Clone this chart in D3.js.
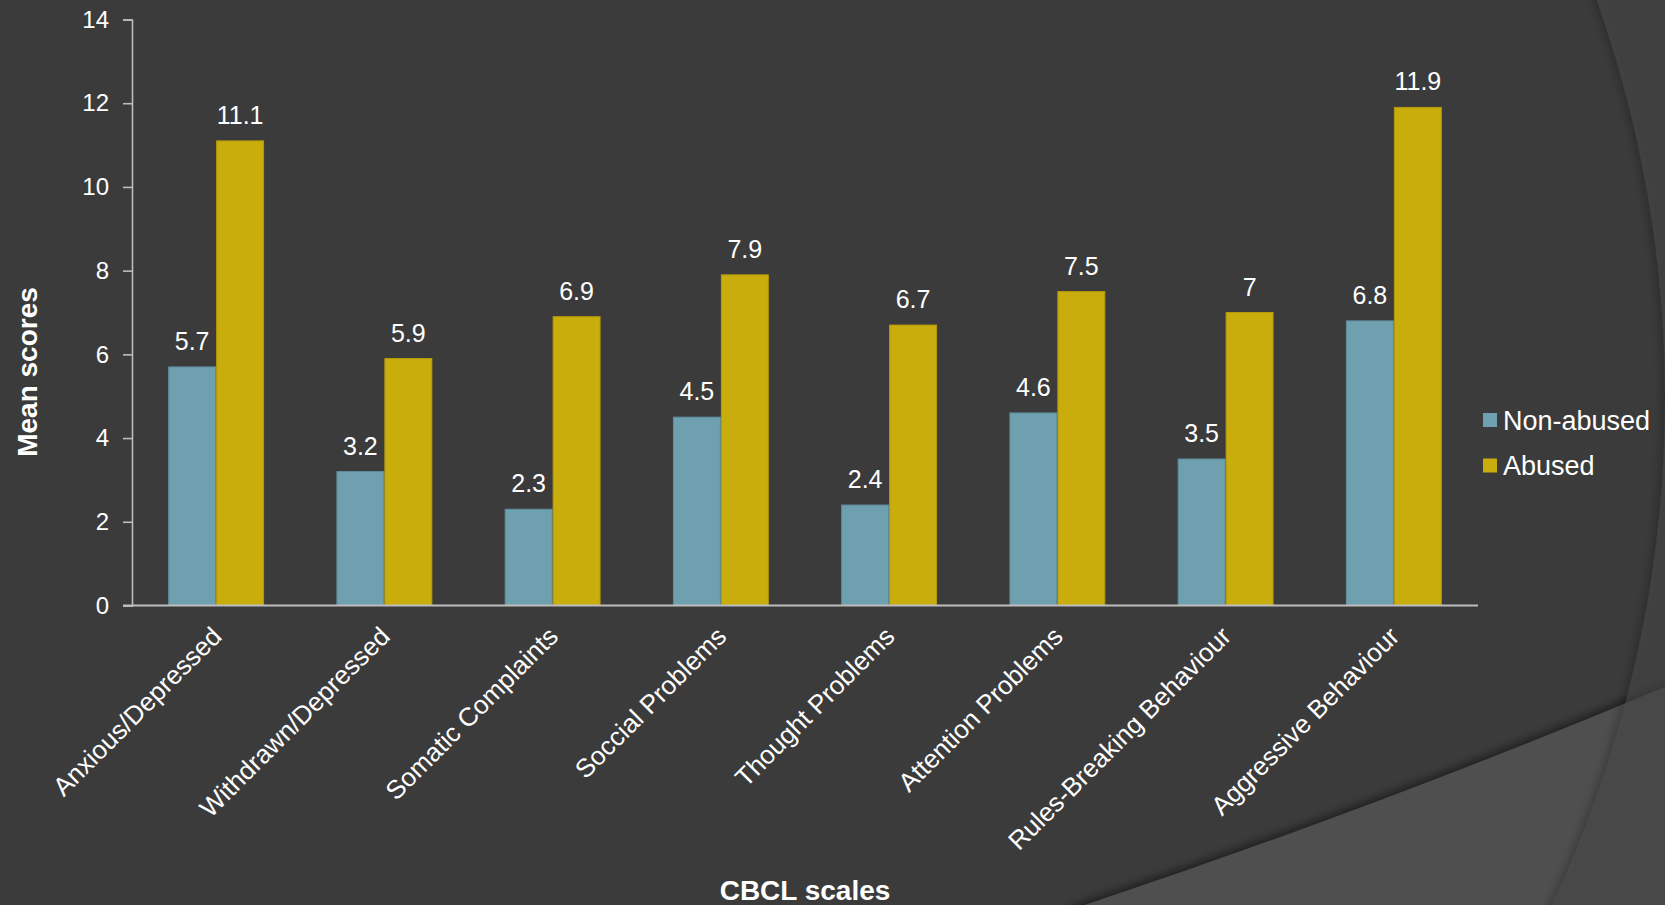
<!DOCTYPE html>
<html>
<head>
<meta charset="utf-8">
<script src="https://cdn.jsdelivr.net/npm/d3@7"></script>
<style>
  html, body { margin: 0; padding: 0; background: #3b3b3b; }
  svg { display: block; }
  text { font-family: "Liberation Sans", Arial, Helvetica, sans-serif; fill: #ffffff; }
</style>
</head>
<body>
<svg id="chart" width="1665" height="905"></svg>
<script>
// CBCL scale means for the two groups
const categories = [
  "Anxious/Depressed", "Withdrawn/Depressed", "Somatic Complaints", "Soccial Problems",
  "Thought Problems", "Attention Problems", "Rules-Breaking Behaviour", "Aggressive Behaviour"
];
const seriesNames = ["Non-abused", "Abused"];
const nonAbused = [5.7, 3.2, 2.3, 4.5, 2.4, 4.6, 3.5, 6.8];
const abused = [11.1, 5.9, 6.9, 7.9, 6.7, 7.5, 7, 11.9];
const yTickValues = [0, 2, 4, 6, 8, 10, 12, 14];
const seriesColors = ["#6fa0b0", "#c9ad0c"];
const seriesEdges = ["#5f8e9d", "#b39a0b"];

const W = 1665, H = 905;
const svg = d3.select("#chart");

// ---- slide backdrop: two sweeping panels with soft shadows ----
const defs = svg.append("defs");
defs.append("filter").attr("id", "shLeft").attr("x", "-10%").attr("y", "-10%").attr("width", "120%").attr("height", "120%")
  .append("feDropShadow").attr("dx", -4).attr("dy", 0).attr("stdDeviation", 4)
  .attr("flood-color", "#000").attr("flood-opacity", 0.45);
defs.append("filter").attr("id", "shUp").attr("x", "-10%").attr("y", "-20%").attr("width", "120%").attr("height", "140%")
  .append("feDropShadow").attr("dx", -1).attr("dy", -4).attr("stdDeviation", 4)
  .attr("flood-color", "#000").attr("flood-opacity", 0.45);

svg.append("rect").attr("width", W).attr("height", H).attr("fill", "#3b3b3b");

// lower sweep
svg.append("path")
  .attr("d", "M 965 960 L 1085 905 Q 1379 807 1665 687 L 1720 665 L 1720 960 Z")
  .attr("fill", "#505050")
  .attr("filter", "url(#shUp)");

// right-hand sweep: everything outside a large circle
const cx = 473, cy = 398, R = 1192;
svg.append("path")
  .attr("d", `M -50 -50 H 1760 V 1000 H -50 Z M ${cx - R} ${cy} a ${R} ${R} 0 1 0 ${2 * R} 0 a ${R} ${R} 0 1 0 ${-2 * R} 0 Z`)
  .attr("fill-rule", "evenodd")
  .attr("fill", "rgba(74,74,74,0.5)")
  .attr("filter", "url(#shLeft)");

// ---- chart ----
const plotLeft = 132, plotRight = 1478, plotTop = 19.5, plotBottom = 605.5;

const x0 = d3.scaleBand().domain(categories).range([plotLeft, plotRight])
  .paddingInner(0.43).paddingOuter(0.215);
const x1 = d3.scaleBand().domain(seriesNames).range([0, x0.bandwidth()]).padding(0);
const y = d3.scaleLinear().domain([0, 14]).range([plotBottom, plotTop]);

const rows = categories.map((c, i) => ({
  category: c,
  values: [
    { series: seriesNames[0], value: nonAbused[i], idx: 0 },
    { series: seriesNames[1], value: abused[i], idx: 1 }
  ]
}));

const axisColor = "#bdbdbd";

// y axis
const yAxis = svg.append("g")
  .attr("transform", `translate(${plotLeft},0)`)
  .call(d3.axisLeft(y).tickValues(yTickValues).tickSize(9).tickPadding(14).tickFormat(d3.format("d")));
yAxis.select(".domain").attr("stroke", axisColor).attr("stroke-width", 1.6);
yAxis.selectAll(".tick line").attr("stroke", axisColor).attr("stroke-width", 1.6);
yAxis.selectAll(".tick text").attr("font-size", 24).attr("fill", "#ffffff")
  .attr("font-family", "'Liberation Sans', Arial, sans-serif");

// bars
const groups = svg.append("g").selectAll("g").data(rows).join("g")
  .attr("transform", d => `translate(${x0(d.category)},0)`);

groups.selectAll("rect").data(d => d.values).join("rect")
  .attr("x", d => x1(d.series) + 0.5)
  .attr("width", x1.bandwidth() - 1)
  .attr("y", d => y(d.value))
  .attr("height", d => y(0) - y(d.value))
  .attr("fill", d => seriesColors[d.idx])
  .attr("stroke", d => seriesEdges[d.idx])
  .attr("stroke-width", 1);

// value labels
groups.selectAll("text").data(d => d.values).join("text")
  .attr("x", d => x1(d.series) + x1.bandwidth() / 2)
  .attr("y", d => y(d.value) - 17)
  .attr("text-anchor", "middle")
  .attr("font-size", 25)
  .text(d => String(d.value));

// x axis line
svg.append("line")
  .attr("x1", plotLeft - 9).attr("x2", plotRight)
  .attr("y1", y(0)).attr("y2", y(0))
  .attr("stroke", axisColor).attr("stroke-width", 1.8);

// category labels, slanted
svg.append("g").selectAll("text").data(categories).join("text")
  .attr("transform", d => `translate(${x0(d) + x0.bandwidth() / 2 + 7},638) rotate(-45)`)
  .attr("text-anchor", "end")
  .attr("font-size", 26)
  .text(d => d);

// axis titles
svg.append("text")
  .attr("transform", "translate(37,372) rotate(-90)")
  .attr("text-anchor", "middle")
  .attr("font-size", 28)
  .attr("font-weight", "bold")
  .text("Mean scores");

svg.append("text")
  .attr("x", 805).attr("y", 900)
  .attr("text-anchor", "middle")
  .attr("font-size", 28)
  .attr("font-weight", "bold")
  .text("CBCL scales");

// legend
const legend = svg.append("g").selectAll("g").data(seriesNames).join("g")
  .attr("transform", (d, i) => `translate(1483,${413 + i * 45.5})`);
legend.append("rect").attr("width", 14).attr("height", 14)
  .attr("fill", (d, i) => seriesColors[i]);
legend.append("text").attr("x", 20).attr("y", 16.5)
  .attr("font-size", 27)
  .text(d => d);
</script>
</body>
</html>
